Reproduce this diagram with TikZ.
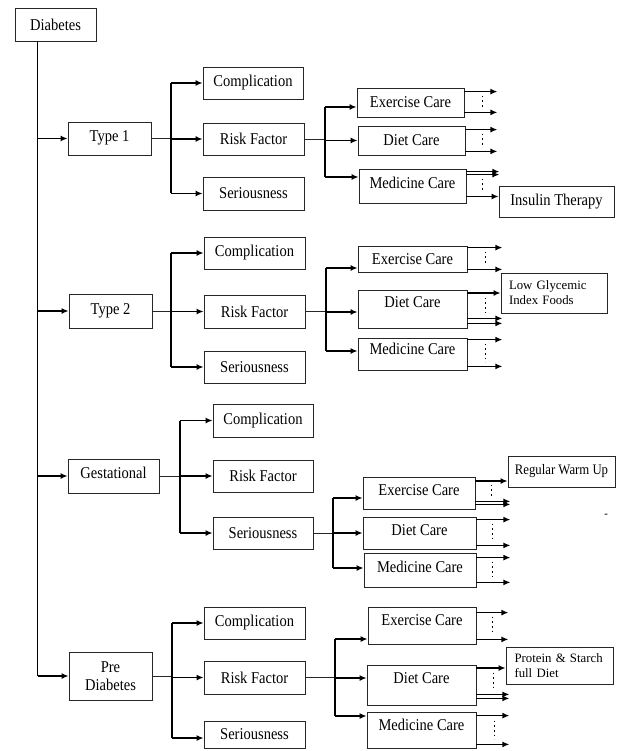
\documentclass[tikz,border=0pt]{standalone}
\usepackage{fontspec}
\setmainfont{Liberation Serif}[FakeStretch=0.88]
\newfontfamily\plainserif{Liberation Serif}
\usetikzlibrary{arrows.meta,calc}
\tikzset{
  box/.style={draw=black!85, line width=0.8pt, inner sep=0pt, fill=white,
    font=\fontsize{16.5}{18}\selectfont},
  smallbox/.style={box, font=\plainserif\fontsize{12.8}{15}\selectfont, align=left},
  lift/.style={text depth=#1},
  ln/.style={draw=black!85, line width=0.8pt},
  tk/.style={draw=black, line width=1.5pt},
  arr/.style={tk, -{Latex[length=7pt,width=6pt]}},
  dts/.style={draw=black, line width=1.7pt, dash pattern=on 1.7pt off 3pt}
}
\newcommand\mybox[7][]{\node[box,minimum width={#5pt-#3pt},minimum height={#6pt-#4pt},#1] (#2) at ({(#3+#5)/2},{(#4+#6)/2}) {#7};}
\begin{document}
\begin{tikzpicture}[x=1pt,y=-1pt]
\useasboundingbox (0,0) rectangle (620,751);
% ---------- nodes ----------
\mybox{dia}{15}{8}{96}{41}{Diabetes}
% Type 1
\mybox[lift=4pt]{t1}{68}{122}{151}{155}{Type 1}
\mybox{c1}{203}{67}{303}{99}{Complication}
\mybox{r1}{203}{123}{304}{155}{Risk Factor}
\mybox{s1}{203}{177}{304}{210}{Seriousness}
\mybox{ex1}{357}{88}{464}{117}{Exercise Care}
\mybox{di1}{358}{126}{465}{155}{Diet Care}
\mybox[lift=6pt]{me1}{359}{169}{466}{203}{Medicine Care}
\mybox{ins}{499}{186}{614}{217}{Insulin Therapy}
% Type 2
\mybox[lift=4pt]{t2}{69}{294}{152}{328}{Type 2}
\mybox{c2}{204}{237}{305}{269}{Complication}
\mybox{r2}{204}{295}{305}{328}{Risk Factor}
\mybox{s2}{204}{351}{305}{383}{Seriousness}
\mybox{ex2}{358}{246}{467}{272}{Exercise Care}
\mybox[lift=14pt]{di2}{358}{290}{467}{328}{Diet Care}
\mybox[lift=10pt]{me2}{358}{338}{467}{370}{Medicine Care}
\mybox[smallbox,text width=90pt]{low}{501}{273}{607}{313}{Low Glycemic\\Index Foods}
% Gestational
\mybox[lift=6pt]{ge}{68}{459}{159}{493}{Gestational}
\mybox{c3}{213}{404}{313}{437}{Complication}
\mybox{r3}{213}{460}{313}{492}{Risk Factor}
\mybox{s3}{213}{517}{313}{549}{Seriousness}
\mybox[lift=6pt]{ex3}{363}{477}{475}{509}{Exercise Care}
\mybox[lift=6pt]{di3}{363}{517}{476}{549}{Diet Care}
\mybox[lift=6pt]{me3}{364}{553}{476}{587}{Medicine Care}
\mybox[font=\fontsize{14.5}{16}\selectfont]{rwu}{508}{456}{615}{487}{Regular Warm Up}
\node[font=\fontsize{12}{14}\selectfont] (dash) at (606,516) {-};
% Pre Diabetes
\mybox[align=center,font=\fontsize{16.5}{18}\selectfont]{pre}{69}{652}{152}{700}{Pre\\Diabetes}
\mybox{c4}{204}{607}{305}{639}{Complication}
\mybox{r4}{204}{661}{305}{694}{Risk Factor}
\mybox{s4}{204}{721}{305}{748}{Seriousness}
\mybox[lift=10pt]{ex4}{368}{607}{476}{644}{Exercise Care}
\mybox[lift=14pt]{di4}{367}{665}{476}{705}{Diet Care}
\mybox[lift=10pt]{me4}{367}{712}{476}{748}{Medicine Care}
\mybox[smallbox,text width=90pt]{pro}{506}{647}{613}{684}{Protein \& Starch\\full Diet}

% ---------- trunk ----------
\coordinate (trk) at (37.7,0);
\draw[tk] (dia.south -| trk) -- (trk |- pre.west);
\foreach \n in {t1,t2,ge,pre} \draw[arr] (trk |- \n.west) -- (\n.west);

% ---------- Type 1 ----------
\coordinate (b1) at (171,0);
\draw[ln] (t1.east) -- (t1.east -| b1);
\draw[tk] (b1 |- c1.west) -- (b1 |- s1.west);
\foreach \n in {c1,r1,s1} \draw[arr] (b1 |- \n.west) -- (\n.west);
\coordinate (v1) at (325,0);
\coordinate (a1e) at ([yshift=-4.5pt]ex1.west);
\coordinate (a1d) at (di1.west);
\coordinate (a1m) at ([yshift=9pt]me1.west);
\draw[ln] (r1.east) -- (r1.east -| v1);
\draw[tk] (v1 |- a1e) -- (v1 |- a1m);
\foreach \p in {a1e,a1d,a1m} \draw[arr] (v1 |- \p) -- (\p);
\draw[arr] ([yshift=-4pt]ex1.north east) -- ++(33,0);
\draw[arr] ([yshift=5pt]ex1.south east) -- ++(33,0);
\draw[dts] ([xshift=18pt,yshift=-8pt]ex1.north east) -- ([xshift=18pt,yshift=9pt]ex1.south east);
\draw[arr] ([yshift=-4pt]di1.north east) -- ++(32,0);
\draw[arr] ([yshift=4pt]di1.south east) -- ++(32,0);
\draw[dts] ([xshift=17pt,yshift=-8pt]di1.north east) -- ([xshift=17pt,yshift=8pt]di1.south east);
\draw[arr] ([yshift=-3pt]me1.north east) -- ++(33,0);
\draw[arr] ([yshift=-6pt]me1.north east) -- ++(33,0);
\coordinate (insin) at ([yshift=5pt]ins.west);
\draw[arr] (me1.east |- insin) -- (insin);
\draw[dts] ([xshift=16pt,yshift=-10pt]me1.north east) -- ([xshift=16pt,yshift=11pt]me1.south east);

% ---------- Type 2 ----------
\coordinate (b2) at (171,0);
\draw[ln] (t2.east) -- (t2.east -| b2);
\draw[tk] (b2 |- c2.west) -- (b2 |- s2.west);
\foreach \n in {c2,r2,s2} \draw[arr] (b2 |- \n.west) -- (\n.west);
\coordinate (v2) at (326,0);
\coordinate (a2e) at ([yshift=-9pt]ex2.west);
\coordinate (a2d) at ([yshift=-3pt]di2.west);
\coordinate (a2m) at ([yshift=3pt]me2.west);
\draw[ln] (r2.east) -- (r2.east -| v2);
\draw[tk] (v2 |- a2e) -- (v2 |- a2m);
\foreach \p in {a2e,a2d,a2m} \draw[arr] (v2 |- \p) -- (\p);
\draw[arr] ([yshift=-2pt]ex2.north east) -- ++(35,0);
\draw[arr] ([yshift=3pt]ex2.south east) -- ++(35,0);
\draw[dts] ([xshift=18pt,yshift=-6pt]ex2.north east) -- ([xshift=18pt,yshift=7pt]ex2.south east);
\draw[arr] (di2.east |- low.west) -- (low.west);
\draw[arr] ([yshift=10pt]di2.south east) -- ++(35,0);
\draw[arr] ([yshift=5pt]di2.south east) -- ++(35,0);
\draw[dts] ([xshift=18pt,yshift=-8pt]di2.north east) -- ([xshift=18pt,yshift=15pt]di2.south east);
\draw[arr] ([yshift=-2pt]me2.north east) -- ++(35,0);
\draw[arr] ([yshift=4pt]me2.south east) -- ++(35,0);
\draw[dts] ([xshift=18pt,yshift=-6pt]me2.north east) -- ([xshift=18pt,yshift=8pt]me2.south east);

% ---------- Gestational ----------
\coordinate (b3) at (180,0);
\draw[ln] (ge.east) -- (ge.east -| b3);
\draw[tk] (b3 |- c3.west) -- (b3 |- s3.west);
\foreach \n in {c3,r3,s3} \draw[arr] (b3 |- \n.west) -- (\n.west);
\coordinate (v3) at (333,0);
\coordinate (a3e) at ([yshift=-5pt]ex3.west);
\coordinate (a3d) at (di3.west);
\coordinate (a3m) at ([yshift=2pt]me3.west);
\draw[ln] (s3.east) -- (s3.east -| v3);
\draw[tk] (v3 |- a3e) -- (v3 |- a3m);
\foreach \p in {a3e,a3d,a3m} \draw[arr] (v3 |- \p) -- (\p);
\coordinate (rwin) at ([yshift=-9.5pt]rwu.west);
\draw[arr] (ex3.east |- rwin) -- (rwin);
\draw[arr] ([yshift=8pt]ex3.south east) -- ++(35,0);
\draw[arr] ([yshift=5pt]ex3.south east) -- ++(35,0);
\draw[dts] ([xshift=16pt,yshift=-8pt]ex3.north east) -- ([xshift=16pt,yshift=12pt]ex3.south east);
\draw[arr] ([yshift=-3pt]di3.north east) -- ++(34,0);
\draw[arr] ([yshift=4pt]di3.south east) -- ++(34,0);
\draw[dts] ([xshift=16pt,yshift=-7pt]di3.north east) -- ([xshift=16pt,yshift=8pt]di3.south east);
\draw[arr] ([yshift=-5pt]me3.north east) -- ++(34,0);
\draw[arr] ([yshift=5pt]me3.south east) -- ++(34,0);
\draw[dts] ([xshift=16pt,yshift=-9pt]me3.north east) -- ([xshift=16pt,yshift=9pt]me3.south east);

% ---------- Pre Diabetes ----------
\coordinate (b4) at (172,0);
\coordinate (a4s) at ([yshift=-3.5pt]s4.west);
\draw[ln] (pre.east) -- (pre.east -| b4);
\draw[tk] (b4 |- c4.west) -- (b4 |- a4s);
\foreach \p in {c4.west,r4.west,a4s} \draw[arr] (b4 |- \p) -- (\p);
\coordinate (v4) at (335,0);
\coordinate (a4e) at ([yshift=-13.5pt]ex4.west);
\coordinate (a4d) at ([yshift=7pt]di4.west);
\coordinate (a4m) at ([yshift=14pt]me4.west);
\draw[ln] (r4.east) -- (r4.east -| v4);
\draw[tk] (v4 |- a4e) -- (v4 |- a4m);
\foreach \p in {a4e,a4d,a4m} \draw[arr] (v4 |- \p) -- (\p);
\draw[arr] ([yshift=-6pt]ex4.north east) -- ++(32,0);
\draw[arr] ([yshift=5pt]ex4.south east) -- ++(32,0);
\draw[dts] ([xshift=16pt,yshift=-10pt]ex4.north east) -- ([xshift=16pt,yshift=10pt]ex4.south east);
\coordinate (proin) at ([yshift=-2.5pt]pro.west);
\draw[arr] (di4.east |- proin) -- (proin);
\draw[arr] ([yshift=11pt]di4.south east) -- ++(33,0);
\draw[arr] ([yshift=7pt]di4.south east) -- ++(33,0);
\draw[dts] ([xshift=17pt,yshift=-8pt]di4.north east) -- ([xshift=17pt,yshift=16pt]di4.south east);
\draw[arr] ([yshift=-4pt]me4.north east) -- ++(33,0);
\draw[arr] ([yshift=4pt]me4.south east) -- ++(33,0);
\draw[dts] ([xshift=18pt,yshift=-9pt]me4.north east) -- ([xshift=18pt,yshift=9pt]me4.south east);
\end{tikzpicture}
\end{document}
